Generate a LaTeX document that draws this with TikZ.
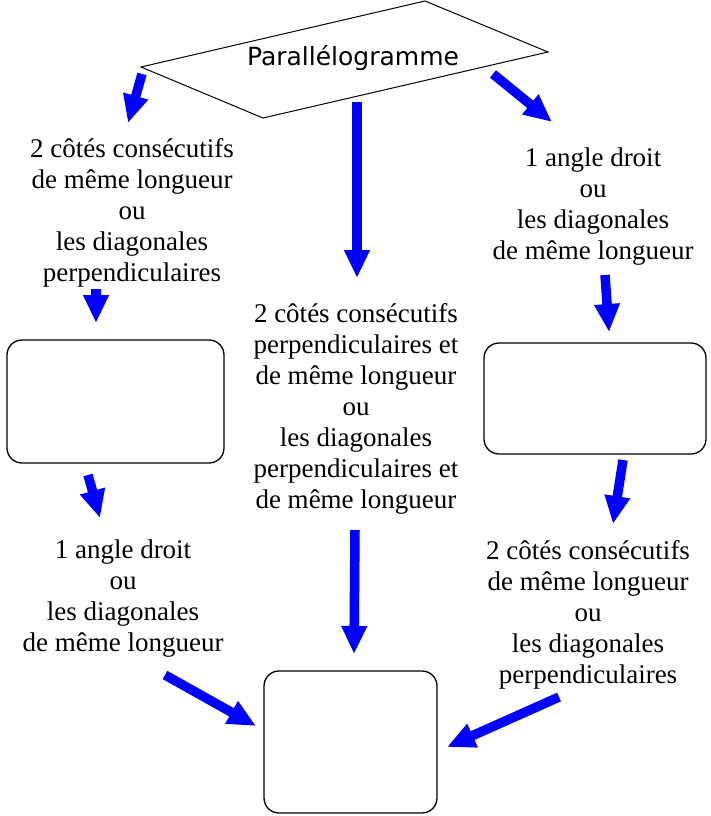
\documentclass[tikz,border=0pt]{standalone}
\usepackage{fontspec}
\setmainfont{Liberation Serif}
\newfontfamily\parafont{DejaVu Sans}
\usetikzlibrary{arrows.meta, positioning}
\definecolor{arrowblue}{HTML}{0000FF}
\definecolor{framecol}{HTML}{000000}
\tikzset{
    condtext/.style={align=center, inner sep=0pt, font=\fontsize{27}{31}\selectfont},
    quadbox/.style 2 args={rectangle, rounded corners=15pt, draw=framecol, line width=1.3pt, minimum width=#1, minimum height=#2, inner sep=0pt},
    paraline/.style={draw=framecol, line width=1pt},
    bigarrow/.style={-{Triangle[length=28pt, width=24pt]}, arrowblue, line width=9.5pt},
}
\begin{document}
\begin{tikzpicture}[x=1pt, y=-1pt]
\useasboundingbox (0,0) rectangle (711,816);
% parallelogramme
\coordinate (ptop) at (425,1);
\coordinate (pright) at (548,52);
\coordinate (pbot) at (263,118);
\coordinate (pleft) at (141,67);
\draw[paraline] (ptop) -- (pright) -- (pbot) -- (pleft) -- cycle;
\node[anchor=base, inner sep=0pt, font=\parafont\fontsize{25}{30}\selectfont] (para) at (353,66) {Parallélogramme};
% conditions
\node[condtext] (condtl) at (132,213) {2 côtés consécutifs\\de même longueur\\ou\\les diagonales\\perpendiculaires};
\node[condtext] (condtr) at (593,207) {1 angle droit\\ou\\les diagonales\\de même longueur};
\node[condtext] (condmid) at (356,409) {2 côtés consécutifs\\perpendiculaires et\\de même longueur\\ou\\les diagonales\\perpendiculaires et\\de même longueur};
\node[condtext] (condbl) at (123,599) {1 angle droit\\ou\\les diagonales\\de même longueur};
\node[condtext] (condbr) at (588,614.5) {2 côtés consécutifs\\de même longueur\\ou\\les diagonales\\perpendiculaires};
% cadres vides
\node[quadbox={217pt}{123pt}] (boxleft) at (115.5,401.5) {};
\node[quadbox={222pt}{111pt}] (boxright) at (595,398.5) {};
\node[quadbox={173pt}{142pt}] (boxbot) at (350.5,742) {};
% fleches
\coordinate (tlstart) at (142,74);
\coordinate (tlend) at (128,123);
\draw[bigarrow] (tlstart) -- (tlend);
\coordinate (midstart) at (357,102);
\coordinate (midend) at (357,278);
\draw[bigarrow] (midstart) -- (midend);
\coordinate (trstart) at (493,74);
\coordinate (trend) at (552,122);
\draw[bigarrow] (trstart) -- (trend);
\coordinate (lastart) at (96,289);
\coordinate (laend) at (96,323);
\draw[bigarrow] (lastart) -- (laend);
\coordinate (lbstart) at (88,475);
\coordinate (lbend) at (100,518);
\draw[bigarrow] (lbstart) -- (lbend);
\coordinate (rastart) at (605,275);
\coordinate (raend) at (609,332);
\draw[bigarrow] (rastart) -- (raend);
\coordinate (rbstart) at (623,460);
\coordinate (rbend) at (613,524);
\draw[bigarrow] (rbstart) -- (rbend);
\coordinate (mbstart) at (355,530);
\coordinate (mbend) at (354,654);
\draw[bigarrow] (mbstart) -- (mbend);
\coordinate (blstart) at (165,675);
\coordinate (blend) at (256,726);
\draw[bigarrow] (blstart) -- (blend);
\coordinate (brstart) at (559,697);
\coordinate (brend) at (447,747);
\draw[bigarrow] (brstart) -- (brend);
\end{tikzpicture}
\end{document}
